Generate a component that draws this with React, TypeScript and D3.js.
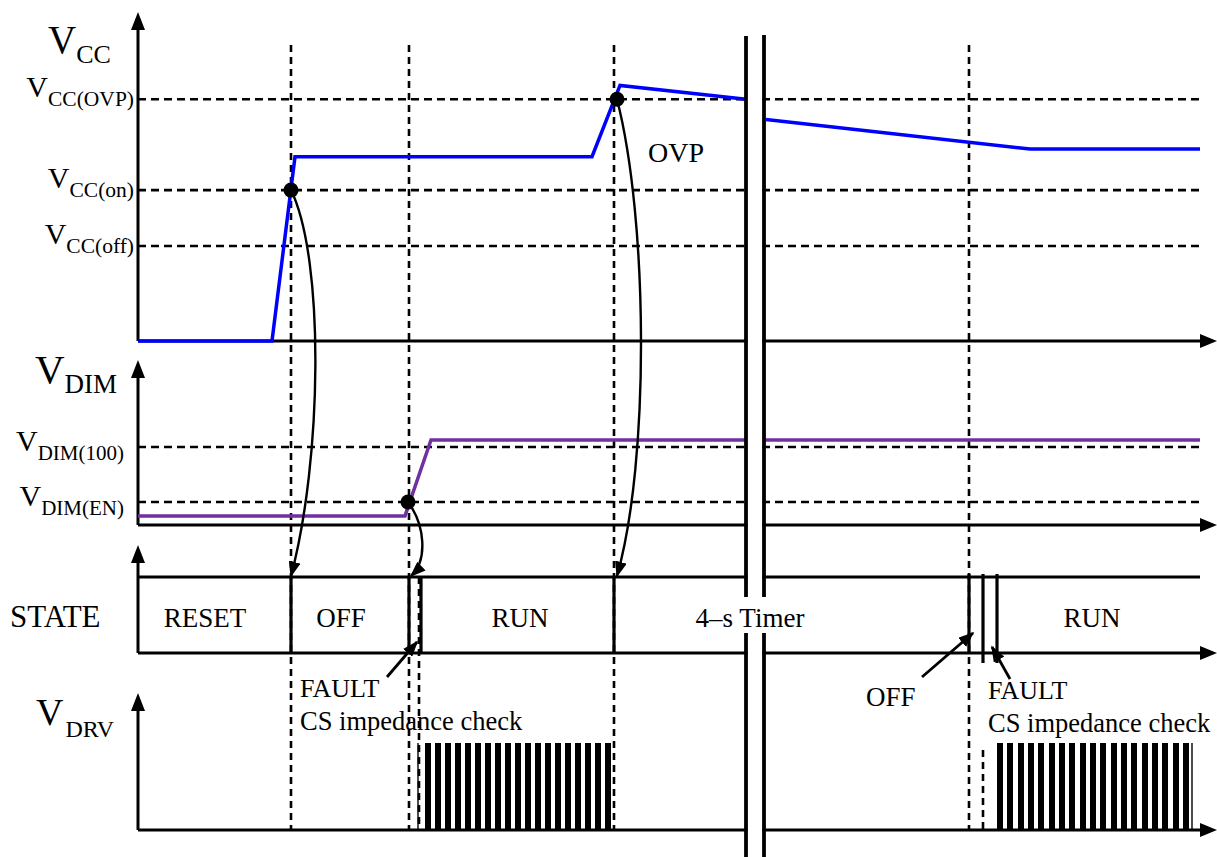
import React from "react";
import * as d3 from "d3";

const W = 1217;
const H = 857;

// ---------- data (time in arbitrary units, values in volts / logic) ----------
const timeDomain: [number, number] = [0, 1080];
const vccDomain: [number, number] = [0, 30];
const vdimDomain: [number, number] = [0, 6.35];

const vccLevels = [
  { sub: "CC(OVP)", value: 22.05 },
  { sub: "CC(on)", value: 13.76 },
  { sub: "CC(off)", value: 8.66 },
];
const vdimLevels = [
  { sub: "DIM(100)", value: 3.0 },
  { sub: "DIM(EN)", value: 0.885 },
];

const vccBeforeBreak: [number, number][] = [
  [0, 0], [134, 0], [157, 16.8], [454, 16.8], [482, 23.3], [608, 22.05],
];
const vccAfterBreak: [number, number][] = [
  [628, 20.2], [892, 17.5], [1062, 17.5],
];
const vdimBeforeBreak: [number, number][] = [
  [0, 0.35], [267, 0.35], [293, 3.27], [608, 3.27],
];
const vdimAfterBreak: [number, number][] = [
  [626, 3.27], [1062, 3.27],
];

const eventTimes = [153, 271, 476, 831];
const stateEdges = [153, 271, 283, 476, 831, 845, 859];
const stateLabels = [
  { text: "RESET", t: 67 },
  { text: "OFF", t: 203 },
  { text: "RUN", t: 382 },
  { text: "4–s Timer", t: 612 },
  { text: "RUN", t: 954 },
];
const breakTimes = [608, 626];
const levelsEnd = 1062;

const pulsesRun1 = [287, 297, 307, 317, 327, 337, 347, 357, 367, 377, 387, 397, 407, 417, 427, 437, 447, 457, 467];
const pulsesRun2 = [859, 869, 880, 890, 900, 911, 921, 931, 942, 952, 962, 973, 983, 993, 1004, 1014, 1024, 1035, 1045];
const pulseEdges = [280, 1054];

// ---------- layout ----------
const FONT = "'Liberation Serif', 'Times New Roman', Times, serif";
const AX = 138;

const x = d3.scaleLinear().domain(timeDomain).range([AX, AX + 1080]);
const yVcc = d3.scaleLinear().domain(vccDomain).range([341, 12]);
const yDim = d3.scaleLinear().domain(vdimDomain).range([525, 360]);
const yState = d3.scaleLinear().domain([0, 1]).range([653, 577]);
const yDrv = d3.scaleLinear().domain([0, 1]).range([830, 743]);

const BLUE = "#0000FF";
const PURPLE = "#7030A0";

const lineVcc = d3.line<[number, number]>().x((d) => x(d[0])).y((d) => yVcc(d[1]));
const lineDim = d3.line<[number, number]>().x((d) => x(d[0])).y((d) => yDim(d[1]));

function bez(p0: number[], p1: number[], p2: number[], p3: number[]) {
  const p = d3.path();
  p.moveTo(p0[0], p0[1]);
  p.bezierCurveTo(p1[0], p1[1], p2[0], p2[1], p3[0], p3[1]);
  return p.toString();
}

function VArrow({ xp, top, bottom }: { xp: number; top: number; bottom: number }) {
  return (
    <g>
      <line x1={xp} y1={top + 8} x2={xp} y2={bottom} stroke="#000" strokeWidth={3} />
      <path d={`M${xp},${top} L${xp - 7},${top + 18} L${xp + 7},${top + 18} Z`} fill="#000" />
    </g>
  );
}
function HArrow({ y, x0, tip }: { y: number; x0: number; tip: number }) {
  return (
    <g>
      <line x1={x0} y1={y} x2={tip - 6} y2={y} stroke="#000" strokeWidth={3} />
      <path d={`M${tip},${y} L${tip - 17},${y - 7} L${tip - 17},${y + 7} Z`} fill="#000" />
    </g>
  );
}

export default function App() {
  const xEnd = x(levelsEnd);
  const bx0 = x(breakTimes[0]);
  const bx1 = x(breakTimes[1]);

  const dotVccOn = [x(eventTimes[0]), yVcc(vccLevels[1].value)];
  const dotDimEn = [x(eventTimes[1]) - 1, yDim(vdimLevels[1].value)];
  const dotOvp = [x(eventTimes[2]) + 3, yVcc(vccLevels[0].value)];
  const stateTop = yState(1);
  const stateBot = yState(0);

  const dashV = "7 5";
  const dashH = "8 5";
  const DW = 2.6;

  return (
    <svg
      width={W}
      height={H}
      viewBox={`0 0 ${W} ${H}`}
      style={{ position: "fixed", left: 0, top: 0, background: "#fff" }}
      fontFamily={FONT}
    >
      <defs>
        <marker id="ah" viewBox="0 0 10 10" refX="9" refY="5" markerUnits="userSpaceOnUse"
          markerWidth="16" markerHeight="12" preserveAspectRatio="none" orient="auto">
          <path d="M0,0 L10,5 L0,10 Z" fill="#000" />
        </marker>
      </defs>
      <rect x={0} y={0} width={W} height={H} fill="#fff" />

      {/* horizontal dashed levels */}
      {vccLevels.map((l, i) => (
        <line key={"vl" + i} x1={AX} x2={xEnd} y1={yVcc(l.value)} y2={yVcc(l.value)}
          stroke="#000" strokeWidth={DW} strokeDasharray={dashH} />
      ))}
      {vdimLevels.map((l, i) => (
        <line key={"dl" + i} x1={AX} x2={xEnd} y1={yDim(l.value)} y2={yDim(l.value)}
          stroke="#000" strokeWidth={DW} strokeDasharray={dashH} />
      ))}

      {/* vertical dashed event lines */}
      {eventTimes.map((t, i) => (
        <line key={"ev" + i} x1={x(t)} x2={x(t)} y1={45} y2={yDrv(0)}
          stroke="#000" strokeWidth={DW} strokeDasharray={dashV} />
      ))}
      <line x1={x(stateEdges[2]) - 2} x2={x(stateEdges[2]) - 2} y1={stateTop} y2={yDrv(0)}
        stroke="#000" strokeWidth={DW} strokeDasharray={dashV} />
      <line x1={x(stateEdges[5])} x2={x(stateEdges[5])} y1={750} y2={yDrv(0)}
        stroke="#000" strokeWidth={DW} strokeDasharray={dashV} />

      {/* axes */}
      <VArrow xp={AX} top={12} bottom={yVcc(0)} />
      <HArrow y={yVcc(0)} x0={AX} tip={1217} />
      <VArrow xp={AX} top={360} bottom={yDim(0)} />
      <HArrow y={yDim(0)} x0={AX} tip={1217} />
      <VArrow xp={AX} top={545} bottom={stateBot} />
      <HArrow y={stateBot} x0={AX} tip={1217} />
      <line x1={AX} x2={xEnd} y1={stateTop} y2={stateTop} stroke="#000" strokeWidth={3.2} />
      <VArrow xp={AX} top={693} bottom={yDrv(0)} />
      <HArrow y={yDrv(0)} x0={AX} tip={1217} />

      {/* state edges */}
      {stateEdges.map((t, i) => (
        <line key={"se" + i} x1={x(t)} x2={x(t)} y1={i >= 4 ? stateTop - 3 : stateTop}
          y2={i >= 5 ? stateBot + 10 : stateBot} stroke="#000" strokeWidth={3.2} />
      ))}

      {/* traces */}
      <path d={lineVcc(vccBeforeBreak) || ""} fill="none" stroke={BLUE} strokeWidth={3.5} />
      <path d={lineVcc(vccAfterBreak) || ""} fill="none" stroke={BLUE} strokeWidth={3.5} />
      <path d={lineDim(vdimBeforeBreak) || ""} fill="none" stroke={PURPLE} strokeWidth={3.5} />
      <path d={lineDim(vdimAfterBreak) || ""} fill="none" stroke={PURPLE} strokeWidth={3.5} />

      {/* drive pulses */}
      {pulsesRun1.concat(pulsesRun2).map((t, i) => (
        <rect key={"p" + i} x={x(t)} y={yDrv(1)} width={x(t + 6) - x(t)} height={yDrv(0) - yDrv(1)} fill="#000" />
      ))}
      {pulseEdges.map((t, i) => (
        <line key={"pe" + i} x1={x(t)} x2={x(t)} y1={yDrv(1)} y2={yDrv(0)} stroke="#000" strokeWidth={1.4} />
      ))}

      {/* curved arrows */}
      <path d={bez(dotVccOn, [325, 260], [322, 460], [x(eventTimes[0]), stateTop - 1])}
        fill="none" stroke="#000" strokeWidth={2.4} markerEnd="url(#ah)" />
      <path d={bez(dotDimEn, [425, 525], [428, 560], [x(eventTimes[1]) + 2, stateTop - 1])}
        fill="none" stroke="#000" strokeWidth={2.4} markerEnd="url(#ah)" />
      <path d={bez(dotOvp, [648, 220], [650, 460], [x(eventTimes[2]) + 3, stateTop - 1])}
        fill="none" stroke="#000" strokeWidth={2.4} markerEnd="url(#ah)" />

      {/* straight arrows */}
      <line x1={387} y1={677} x2={417} y2={642} stroke="#000" strokeWidth={2.8} markerEnd="url(#ah)" />
      <line x1={922} y1={677} x2={973} y2={633} stroke="#000" strokeWidth={2.8} markerEnd="url(#ah)" />
      <line x1={1010} y1={679} x2={992} y2={647} stroke="#000" strokeWidth={2.8} markerEnd="url(#ah)" />

      {/* dots */}
      {[dotVccOn, dotDimEn, dotOvp].map((d, i) => (
        <circle key={"dot" + i} cx={d[0]} cy={d[1]} r={7.5} fill="#000" />
      ))}

      {/* break */}
      <rect x={bx0 + 1.5} y={30} width={bx1 - bx0 - 3} height={H - 30} fill="#fff" />
      <line x1={bx0} x2={bx0} y1={36} y2={H} stroke="#000" strokeWidth={3.8} />
      <line x1={bx1} x2={bx1} y1={35} y2={H} stroke="#000" strokeWidth={3.8} />

      {/* state labels */}
      {stateLabels.map((s, i) => (
        <g key={"sl" + i}>
          {s.text.startsWith("4") && (
            <rect x={x(s.t) - 58} y={597} width={116} height={36} fill="#fff" />
          )}
          <text x={x(s.t)} y={627} fontSize={27} textAnchor="middle" fill="#000">{s.text}</text>
        </g>
      ))}

      {/* level labels */}
      {vccLevels.map((l, i) => (
        <text key={"vt" + i} x={134} y={yVcc(l.value) - 2} textAnchor="end" fill="#000">
          <tspan fontSize={30}>V</tspan>
          <tspan fontSize={21.5} dy={8.5}>{l.sub}</tspan>
        </text>
      ))}
      {vdimLevels.map((l, i) => (
        <text key={"dt" + i} x={124} y={yDim(l.value) + 4} textAnchor="end" fill="#000">
          <tspan fontSize={30}>V</tspan>
          <tspan fontSize={21} dy={9}>{l.sub}</tspan>
        </text>
      ))}

      {/* panel titles */}
      <text x={48} y={53} fill="#000">
        <tspan fontSize={39}>V</tspan>
        <tspan fontSize={26} dy={10}>CC</tspan>
      </text>
      <text x={35} y={383} fill="#000">
        <tspan fontSize={41}>V</tspan>
        <tspan fontSize={27} dy={10}>DIM</tspan>
      </text>
      <text x={10} y={627} fontSize={31} fill="#000">STATE</text>
      <text x={36} y={725} fill="#000">
        <tspan fontSize={38}>V</tspan>
        <tspan fontSize={24} dy={12} dx={2}>DRV</tspan>
      </text>

      {/* annotations */}
      <text x={648} y={162} fontSize={28} fill="#000">OVP</text>
      <text x={300} y={697} fontSize={26} fill="#000">FAULT</text>
      <text x={300} y={730} fontSize={26.5} fill="#000">CS impedance check</text>
      <text x={866} y={706} fontSize={27} fill="#000">OFF</text>
      <text x={988} y={699} fontSize={26} fill="#000">FAULT</text>
      <text x={988} y={732} fontSize={26.5} fill="#000">CS impedance check</text>
    </svg>
  );
}
